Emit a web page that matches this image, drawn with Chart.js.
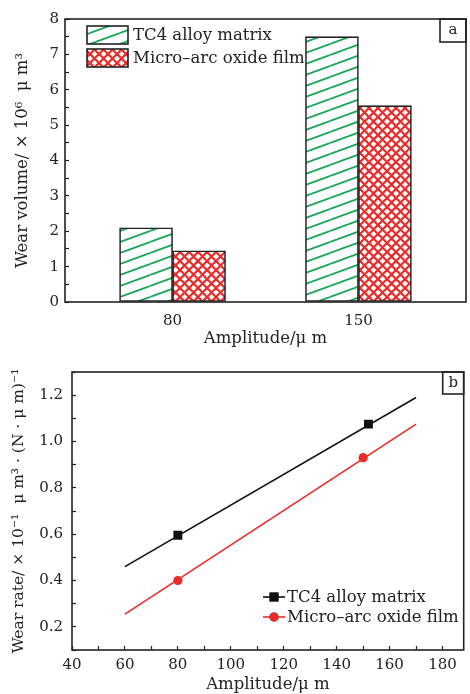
<!DOCTYPE html>
<html>
<head>
<meta charset="utf-8">
<script src="https://cdn.jsdelivr.net/npm/chart.js@4.4.1/dist/chart.umd.min.js"></script>
<style>
  html, body { margin: 0; padding: 0; background: #fff; }
  #wrap { position: relative; width: 470px; height: 694px; }
  .box { position: absolute; left: 0; width: 470px; }
  #boxA { top: 0; height: 350px; }
  #boxB { top: 350px; height: 344px; }
</style>
</head>
<body>
<div id="wrap">
  <div class="box" id="boxA"><canvas id="volume-chart"></canvas></div>
  <div class="box" id="boxB"><canvas id="rate-chart"></canvas></div>
</div>
<script>
// (a) volume d'usure
const amplitudes = [80, 150];
const tc4Volume = [2.1, 7.5];
const maoVolume = [1.45, 5.55];

// (b) taux d'usure
const tc4Amp = [80, 152];
const tc4Rate = [0.595, 1.075];
const maoAmp = [80, 150];
const maoRate = [0.40, 0.93];
const fitAmp = [60, 170];
const tc4Fit = [0.46, 1.19];
const maoFit = [0.255, 1.075];
const rateTickLabels = [40, 60, 80, 100, 120, 140, 160, 180];

const seriesNames = ['TC4 alloy matrix', 'Micro\u2013arc oxide film'];

const ink = '#222';
const green = '#1aa55a';
const red = '#ee2a28';
Chart.defaults.font.family = "'DejaVu Serif', serif";
Chart.defaults.color = ink;

function hatchPattern() {
  const c = document.createElement('canvas');
  c.width = 30; c.height = 11;
  const g = c.getContext('2d');
  g.fillStyle = '#fff';
  g.fillRect(0, 0, 30, 11);
  g.strokeStyle = green;
  g.lineWidth = 1.8;
  [-11, 0, 11].forEach(dy => {
    g.beginPath(); g.moveTo(0, 11 + dy); g.lineTo(30, dy); g.stroke();
  });
  return g.createPattern(c, 'repeat');
}

function meshPattern() {
  const w = 9, h = 9;
  const c = document.createElement('canvas');
  c.width = w; c.height = h;
  const g = c.getContext('2d');
  g.fillStyle = '#fff';
  g.fillRect(0, 0, w, h);
  g.strokeStyle = red;
  g.lineWidth = 2.2;
  [-w, 0, w].forEach(dx => {
    g.beginPath(); g.moveTo(dx, 0); g.lineTo(dx + w, h); g.stroke();
    g.beginPath(); g.moveTo(dx, h); g.lineTo(dx + w, 0); g.stroke();
  });
  return g.createPattern(c, 'repeat');
}

// cadre + étiquette de panneau
function framePlugin(tag, boxW, boxH) {
  return {
    id: 'frame' + tag,
    afterDraw(chart) {
      const { ctx, chartArea: a } = chart;
      ctx.save();
      ctx.strokeStyle = ink;
      ctx.lineWidth = 1.6;
      ctx.strokeRect(a.left, a.top, a.right - a.left, a.bottom - a.top);
      ctx.strokeRect(a.right - boxW, a.top, boxW, boxH);
      ctx.fillStyle = ink;
      ctx.font = "15px 'DejaVu Serif'";
      ctx.textAlign = 'center';
      ctx.textBaseline = 'middle';
      ctx.fillText(tag, a.right - boxW / 2, a.top + boxH / 2);
      ctx.restore();
    }
  };
}

const legendA = {
  id: 'legendA',
  afterDraw(chart) {
    const ctx = chart.ctx;
    ctx.save();
    chart.data.datasets.forEach((ds, i) => {
      const y = 26 + i * 23;
      ctx.fillStyle = ds.backgroundColor;
      ctx.fillRect(87, y, 41, 18);
      ctx.strokeStyle = ink;
      ctx.lineWidth = 1.6;
      ctx.strokeRect(87, y, 41, 18);
      ctx.fillStyle = ink;
      ctx.font = "16.5px 'DejaVu Serif'";
      ctx.textBaseline = 'middle';
      ctx.fillText(ds.label, 133, y + 10);
    });
    ctx.restore();
  }
};

const legendB = {
  id: 'legendB',
  afterDraw(chart) {
    const ctx = chart.ctx;
    ctx.save();
    chart.data.datasets.slice(0, 2).forEach((ds, i) => {
      const y = 247 + i * 20;
      ctx.strokeStyle = ds.borderColor;
      ctx.lineWidth = 1.6;
      ctx.beginPath(); ctx.moveTo(263, y); ctx.lineTo(285, y); ctx.stroke();
      Chart.helpers.drawPoint(ctx, { pointStyle: ds.pointStyle, radius: ds.pointRadius, borderWidth: 0 }, 274, y);
      ctx.fillStyle = ds.backgroundColor;
      ctx.fill();
      ctx.fillStyle = ink;
      ctx.font = "16.5px 'DejaVu Serif'";
      ctx.textBaseline = 'middle';
      ctx.fillText(ds.label, 287, y + 1);
    });
    ctx.restore();
  }
};

const tickGrid = { drawOnChartArea: false, tickLength: -4, color: ink, tickWidth: 1.2 };

new Chart(document.getElementById('volume-chart'), {
  type: 'bar',
  data: {
    datasets: [
      {
        label: seriesNames[0],
        data: amplitudes.map((a, i) => ({ x: a, y: tc4Volume[i] })),
        backgroundColor: hatchPattern(),
        borderColor: ink, borderWidth: 1.6, borderSkipped: false,
        barThickness: 53
      },
      {
        label: seriesNames[1],
        data: amplitudes.map((a, i) => ({ x: a, y: maoVolume[i] })),
        backgroundColor: meshPattern(),
        borderColor: ink, borderWidth: 1.6, borderSkipped: false,
        barThickness: 53
      }
    ]
  },
  options: {
    responsive: true,
    maintainAspectRatio: false,
    animation: false,
    layout: { padding: { top: 15, right: 4, left: 0, bottom: 0 } },
    plugins: { legend: { display: false }, tooltip: { enabled: false } },
    scales: {
      x: {
        type: 'linear', min: 39.5, max: 190.5, offset: false,
        afterBuildTicks: s => { s.ticks = amplitudes.map(v => ({ value: v })); },
        grid: { display: false, drawTicks: false, offset: false },
        border: { display: false },
        ticks: { padding: 10, font: { size: 15 } },
        title: { display: true, text: 'Amplitude/\u03bc m', font: { size: 16.5 }, padding: { top: 0, bottom: 1 } },
        afterFit: s => { s.height = 48; }
      },
      y: {
        min: 0, max: 8,
        ticks: { stepSize: 0.5, autoSkip: false, padding: 10, font: { size: 15 },
                 callback: v => Number.isInteger(v) ? v : '' },
        grid: tickGrid,
        border: { display: false },
        title: { display: true, text: 'Wear volume/ \u00d7 10\u2076  \u03bc m\u00b3', font: { size: 16.5 }, padding: { top: 13 } },
        afterFit: s => { s.width = 65; }
      }
    }
  },
  plugins: [legendA, framePlugin('a', 26, 23)]
});

new Chart(document.getElementById('rate-chart'), {
  type: 'scatter',
  data: {
    datasets: [
      {
        label: seriesNames[0],
        data: tc4Amp.map((a, i) => ({ x: a, y: tc4Rate[i] })),
        pointStyle: 'rect', pointRadius: 6.3, backgroundColor: '#111', borderColor: '#111', borderWidth: 0
      },
      {
        label: seriesNames[1],
        data: maoAmp.map((a, i) => ({ x: a, y: maoRate[i] })),
        pointStyle: 'circle', pointRadius: 4.6, backgroundColor: red, borderColor: red, borderWidth: 0
      },
      {
        label: 'fit1',
        data: fitAmp.map((a, i) => ({ x: a, y: tc4Fit[i] })),
        showLine: true, pointRadius: 0, borderColor: '#111', borderWidth: 1.6
      },
      {
        label: 'fit2',
        data: fitAmp.map((a, i) => ({ x: a, y: maoFit[i] })),
        showLine: true, pointRadius: 0, borderColor: red, borderWidth: 1.6
      }
    ]
  },
  options: {
    responsive: true,
    maintainAspectRatio: false,
    animation: false,
    layout: { padding: { top: 13, right: 3, left: 0, bottom: 0 } },
    plugins: { legend: { display: false }, tooltip: { enabled: false } },
    scales: {
      x: {
        type: 'linear', min: 40, max: 188,
        afterBuildTicks: s => {
          const t = [];
          for (let v = 40; v <= 180; v += 10) t.push({ value: v });
          s.ticks = t;
        },
        ticks: { autoSkip: false, maxRotation: 0, padding: 10, font: { size: 15 },
                 callback: v => rateTickLabels.includes(v) ? v : '' },
        grid: tickGrid,
        border: { display: false },
        title: { display: true, text: 'Amplitude/\u03bc m', font: { size: 16.5 }, padding: { top: 0, bottom: -1 } },
        afterFit: s => { s.height = 44; }
      },
      y: {
        min: 0.1, max: 1.3,
        ticks: { stepSize: 0.1, autoSkip: false, padding: 13, font: { size: 15 },
                 callback: v => Math.round(v * 10) % 2 === 0 ? v.toFixed(1) : '' },
        grid: tickGrid,
        border: { display: false },
        title: { display: true, text: 'Wear rate/ \u00d7 10\u207b\u00b9  \u03bc m\u00b3 \u00b7 (N \u00b7 \u03bc m)\u207b\u00b9', font: { size: 15.5 }, padding: { top: 10 } },
        afterFit: s => { s.width = 72; }
      }
    }
  },
  plugins: [legendB, framePlugin('b', 21, 22)]
});
</script>
</body>
</html>
